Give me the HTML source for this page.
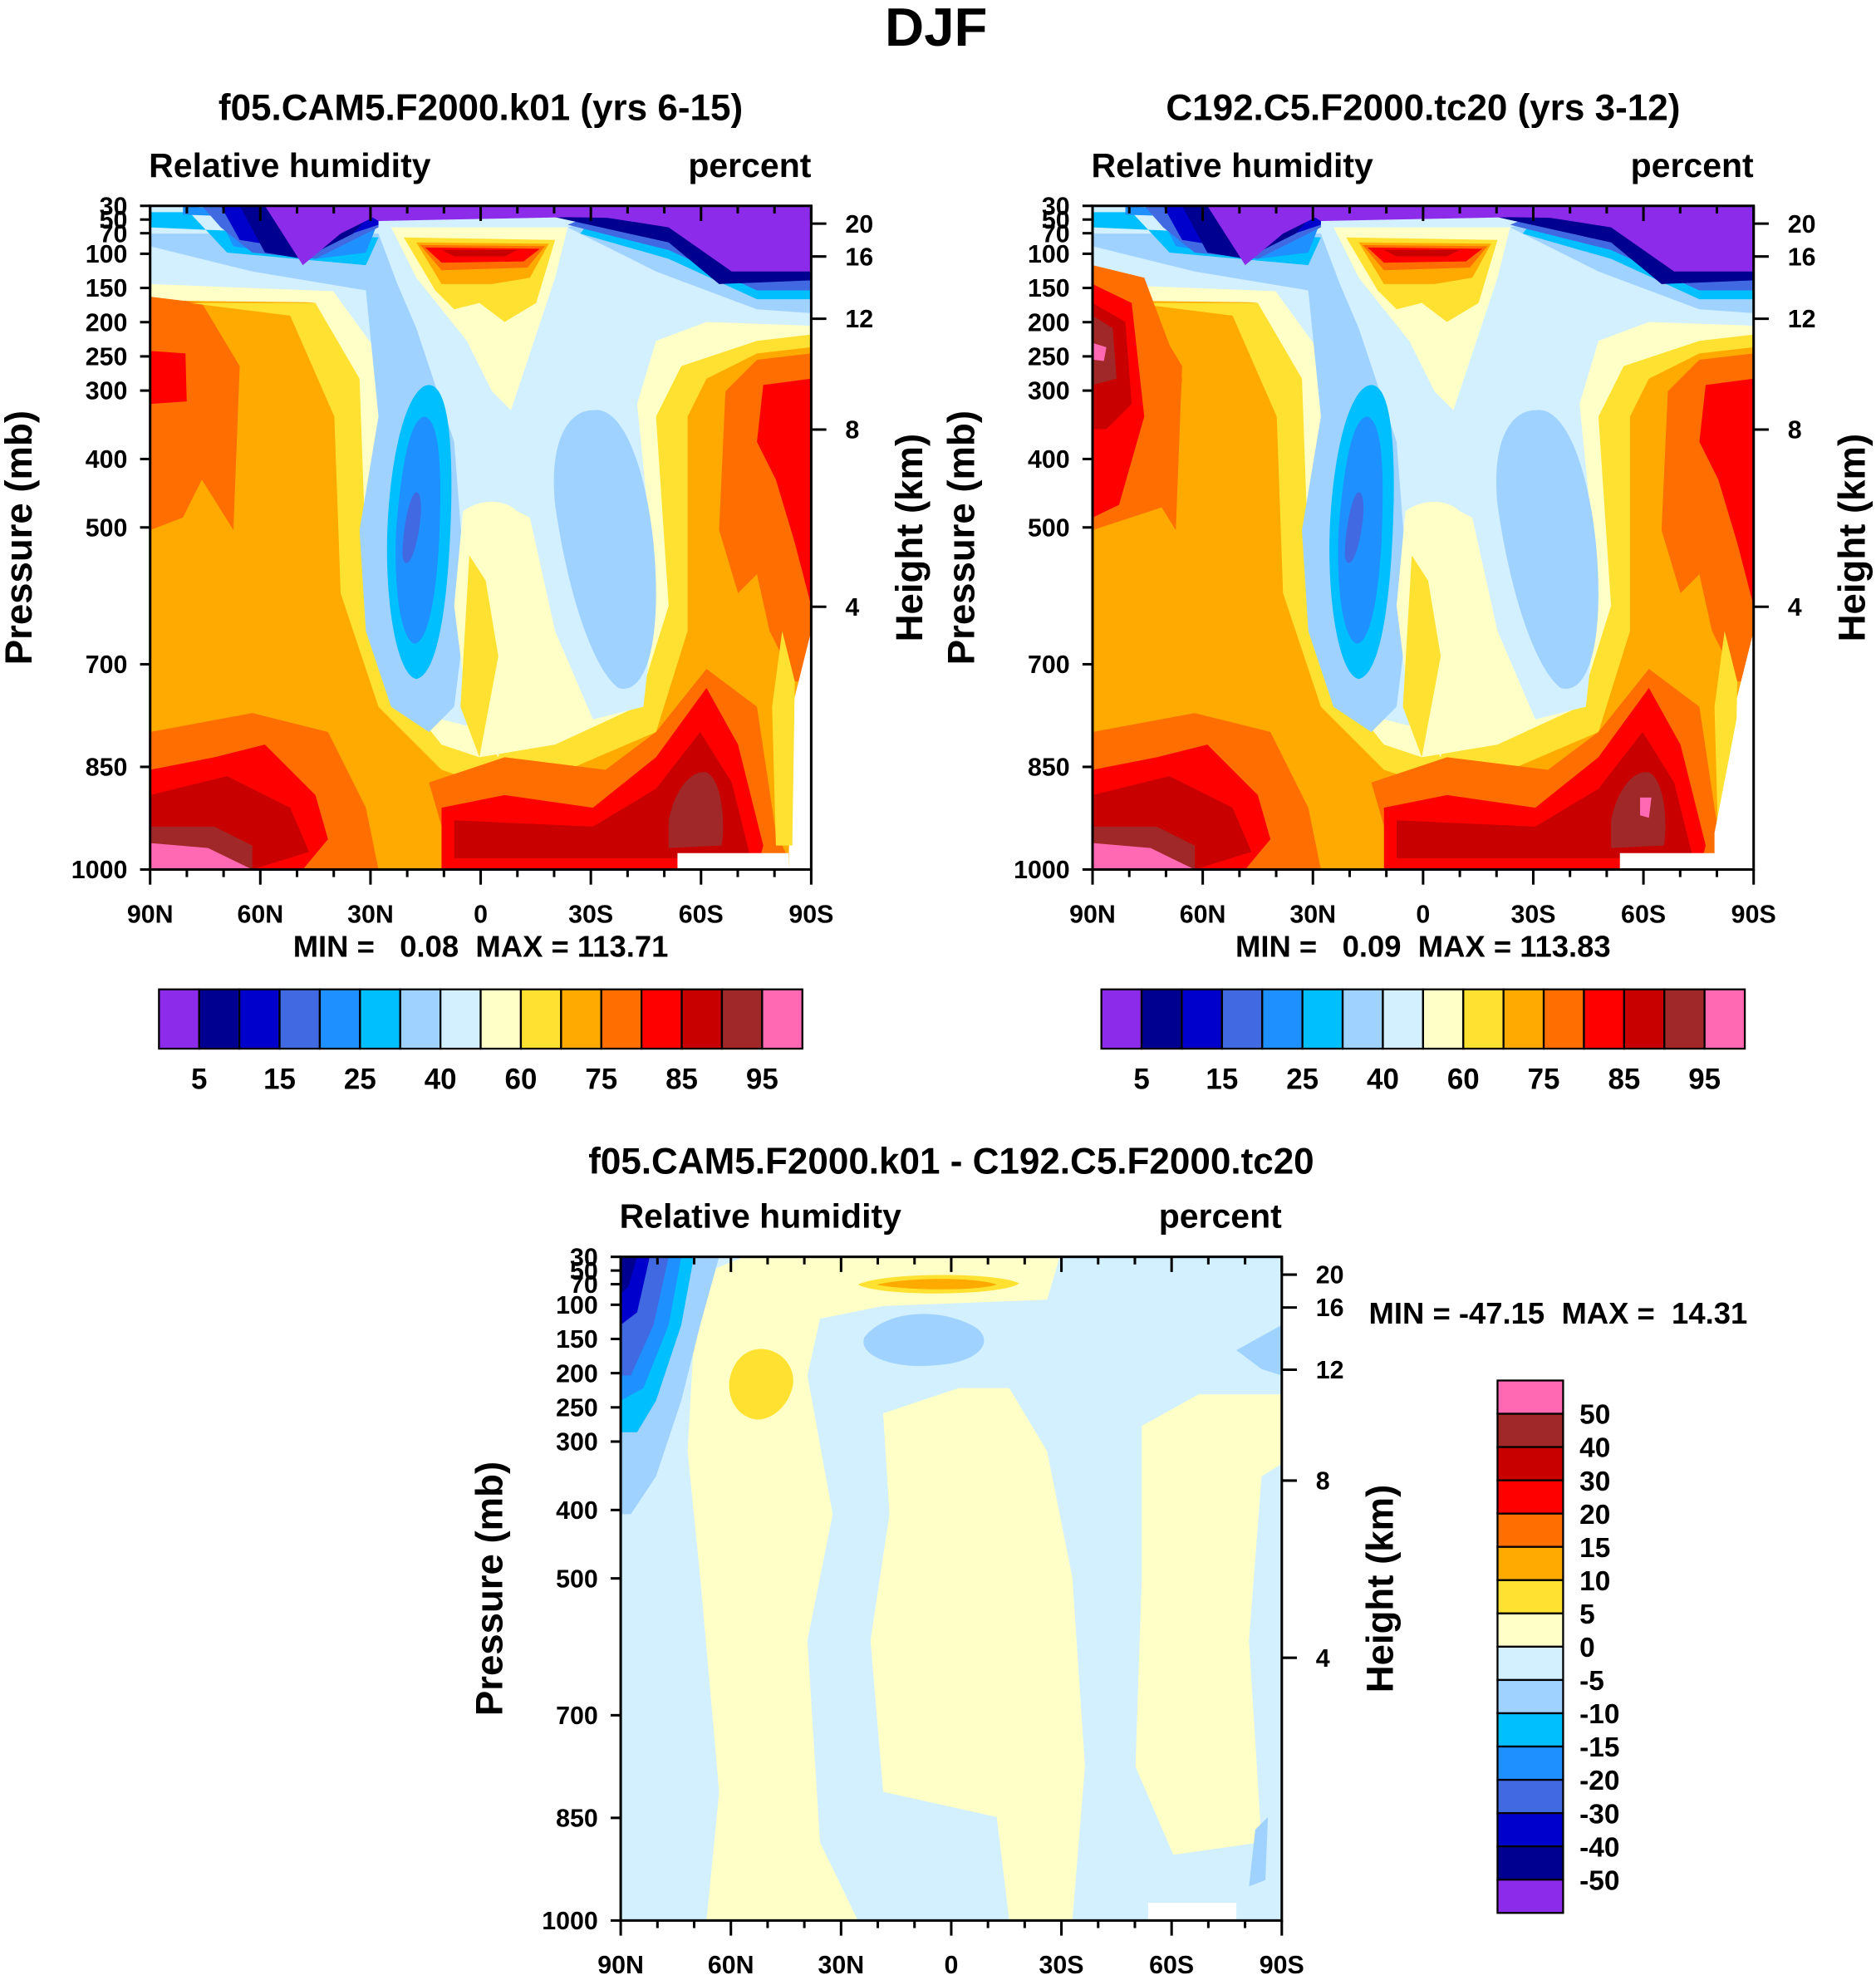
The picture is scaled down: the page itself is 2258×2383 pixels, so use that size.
<!DOCTYPE html>
<html><head><meta charset="utf-8"><style>
html,body{margin:0;padding:0;background:#fff}
svg{display:block;font-family:"Liberation Sans",sans-serif;font-weight:bold}
.pre{white-space:pre}
</style></head><body>
<svg id="s" width="2258" height="2383" viewBox="0 0 1487 1569" xmlns="http://www.w3.org/2000/svg">
<defs>
<clipPath id="c1"><rect x="119" y="163" width="524" height="526"/></clipPath>
<clipPath id="c3"><rect x="492" y="996" width="524" height="526"/></clipPath>
</defs>
<text x="742" y="36" text-anchor="middle" font-size="43">DJF</text>

<g id="p1">
<text x="381" y="95" text-anchor="middle" font-size="29">f05.CAM5.F2000.k01 (yrs 6-15)</text>
<g clip-path="url(#c1)">
<rect x="119" y="163" width="524" height="526" fill="#FFAA00"/>
<path fill="#FFFFC8" d="M119,163 H643 V270 L560,265 L400,250 L300,240 L119,238Z"/>
<path fill="#D2F0FF" d="M119,163 H643 V262 L560,258 L460,240 L300,232 L119,225Z"/>
<path fill="#FF6E00" d="M119,235 L160,240 L190,290 L185,420 L160,380 L145,410 L119,420Z"/>
<path fill="#FF0000" d="M119,278 L147,280 L148,318 L119,320Z"/>
<path fill="#FF6E00" d="M643,280 L600,285 L575,310 L570,420 L585,470 L600,455 L610,500 L630,540 L643,540Z"/>
<path fill="#FF0000" d="M643,300 L605,305 L600,350 L615,380 L630,430 L643,480Z"/>
<path fill="#FFE132" d="M150,240 L230,250 L265,330 L270,470 L300,560 L350,610 L380,620 L450,610 L520,580 L545,500 L545,330 L560,300 L600,280 L643,275 L643,262 L450,250 L350,240Z"/>
<path fill="#FFFFC8" d="M130,228 L250,240 L285,300 L290,440 L310,540 L350,590 L380,600 L440,590 L505,560 L530,480 L520,330 L540,290 L600,270 L643,265 L643,258 L400,245 L300,232Z"/>
<path fill="#D2F0FF" d="M119,210 L260,225 L300,280 L300,430 L320,520 L350,570 L370,575 L380,420 L400,400 L420,410 L440,500 L470,570 L510,560 L520,470 L505,320 L520,270 L560,255 L643,258 L643,235 L450,235 L300,215Z"/>
<path fill="#FFFFC8" d="M310,180 L450,180 L440,220 L420,280 L405,325 L390,310 L370,270 L330,220Z"/>
<path fill="#A0D2FF" d="M119,195 L200,215 L290,230 L300,330 L285,420 L290,500 L310,560 L340,580 L360,560 L370,480 L360,350 L330,260 L315,225 L300,185 L119,185Z"/>
<path fill="#A0D2FF" d="M470,325 C500,320 520,400 520,470 C520,530 505,550 490,545 C470,530 450,470 440,400 C435,350 450,325 470,325Z"/>
<path fill="#A0D2FF" d="M450,180 L520,215 L600,245 L643,248 L643,200 L470,175Z"/>
<path fill="#FFFFC8" d="M367,405 C380,395 400,395 410,405 L420,480 L395,600 L370,560 L360,480Z"/>
<path fill="#FFE132" d="M372,440 L385,460 L395,520 L380,600 L365,560Z"/>
<path fill="#00BFFF" d="M340,305 C355,305 360,350 357,420 C354,490 345,535 330,538 C315,535 305,480 307,420 C310,350 325,305 340,305Z"/>
<path fill="#1E90FF" d="M337,330 C350,335 350,380 348,430 C345,480 338,510 328,510 C318,505 312,470 314,420 C318,370 325,330 337,330Z"/>
<path fill="#4169E1" d="M330,390 C335,390 335,410 330,430 C326,448 320,450 319,440 C319,420 325,390 330,390Z"/>
<path fill="#00BFFF" d="M119,168 L150,168 L180,200 L290,210 L300,188 L119,180Z"/>
<path fill="#1E90FF" d="M145,163 L170,165 L185,195 L250,205 L290,200 L300,175 L145,170Z"/>
<path fill="#4169E1" d="M160,163 L175,180 L200,200 L250,205 L300,180 L300,163Z"/>
<path fill="#0000CD" d="M175,163 L190,190 L240,198 L300,178 L300,163Z"/>
<path fill="#000090" d="M190,163 L210,200 L240,205 L280,185 L300,163Z"/>
<path fill="#8C2BEA" d="M210,163 L240,210 L270,185 L300,170 L643,168 L643,163Z"/>
<path fill="#00BFFF" d="M460,185 L530,205 L600,237 L643,237 L643,208 L470,172Z"/>
<path fill="#4169E1" d="M450,178 L530,198 L600,230 L643,230 L643,210 L470,170Z"/>
<path fill="#000090" d="M440,172 L530,192 L570,225 L643,222 L643,163 L440,163Z"/>
<path fill="#8C2BEA" d="M440,166 L530,180 L580,215 L643,215 L643,163Z"/>
<path fill="#8C2BEA" d="M280,163 L643,163 L643,175 L450,172 L300,175Z"/>
<path fill="#FFE132" d="M320,188 L440,190 L425,240 L400,255 L380,240 L360,245 L345,230Z"/>
<path fill="#FFAA00" d="M330,192 L435,193 L420,220 L390,225 L350,225Z"/>
<path fill="#FF6E00" d="M333,194 L432,195 L418,212 L350,214Z"/>
<path fill="#FF0000" d="M337,196 L428,197 L415,207 L350,208Z"/>
<path fill="#C80000" d="M350,198 L410,198 L400,203 L360,203Z"/>
<path fill="#FF6E00" d="M119,580 L200,565 L260,580 L290,640 L300,689 L119,689Z"/>
<path fill="#FF0000" d="M119,610 L170,600 L210,590 L250,630 L260,665 L240,689 L119,689Z"/>
<path fill="#C80000" d="M119,630 L180,615 L230,640 L245,675 L200,689 L119,689Z"/>
<path fill="#A02828" d="M119,655 L170,655 L200,670 L200,689 L119,689Z"/>
<path fill="#FF69B4" d="M119,668 L165,672 L200,689 L119,689Z"/>
<path fill="#FF6E00" d="M340,620 L400,600 L480,610 L520,580 L560,530 L600,560 L615,660 L625,680 L360,689Z"/>
<path fill="#FF0000" d="M350,640 L400,630 L470,640 L520,600 L560,545 L585,590 L605,670 L600,689 L350,689Z"/>
<path fill="#C80000" d="M360,650 L470,655 L520,625 L555,580 L580,620 L595,680 L360,680Z"/>
<path fill="#A02828" d="M530,650 C535,625 548,610 560,612 C572,618 575,650 572,670 L530,672Z"/>
<rect x="537" y="676" width="88" height="13" fill="#fff"/>
<path fill="#fff" d="M628,560 L643,500 L643,689 L625,689Z"/>
<path fill="#FFE132" d="M620,500 L630,540 L628,670 L615,670 L612,560Z"/>
</g>
</g>
</svg>
<script>
var NS="http://www.w3.org/2000/svg";
var svg=document.getElementById('s');
var pressLevels=[30,50,70,100,150,200,250,300,400,500,700,850,1000];
var heightLabels=["20","16","12","8","4"];
var heightPress=[56,104,195,357,616];
var latLabels=["90N","60N","30N","0","30S","60S","90S"];
var rhLabels=["5","15","25","40","60","75","85","95"];
var diffLabels=["50","40","30","20","15","10","5","0","-5","-10","-15","-20","-30","-40","-50"];
var colors=["#8C2BEA","#000090","#0000CD","#4169E1","#1E90FF","#00BFFF","#A0D2FF","#D2F0FF","#FFFFC8","#FFE132","#FFAA00","#FF6E00","#FF0000","#C80000","#A02828","#FF69B4"];
var panel1Stats="MIN =   0.08  MAX = 113.71";
var panel2Stats="MIN =   0.09  MAX = 113.83";
var panel3Stats="MIN = -47.15  MAX =  14.31";
function mk(tag,at,parent,txt){var e=document.createElementNS(NS,tag);for(var k in at)e.setAttribute(k,at[k]);if(txt!==undefined)e.textContent=txt;(parent||svg).appendChild(e);return e;}
var p1=document.getElementById('p1');
var p2=p1.cloneNode(true);p2.id='p2';
p2.setAttribute('transform','translate(747,0)');

p2.querySelector('text').textContent='C192.C5.F2000.tc20 (yrs 3-12)';
svg.appendChild(p2);
var g2=mk('g',{transform:'translate(747,0)','clip-path':'url(#c1)'});


mk('path',{fill:'#FF6E00',d:'M119,210 L160,220 L190,300 L180,400 L119,420Z'},g2);
mk('path',{fill:'#FF0000',d:'M119,225 L150,240 L160,330 L140,400 L119,410Z'},g2);
mk('path',{fill:'#C80000',d:'M119,240 L145,255 L150,320 L130,340 L119,340Z'},g2);
mk('path',{fill:'#A02828',d:'M119,250 L135,260 L138,300 L119,305Z'},g2);
mk('path',{fill:'#FF69B4',d:'M120,272 L130,275 L128,286 L120,285Z'},g2);
mk('path',{fill:'#FF69B4',d:'M553,632 L562,632 L560,648 L553,646Z'},g2);
mk('path',{fill:'#fff',d:'M612,660 L643,500 L643,689 L612,689Z'},g2);

function axes(x0,y0,prefix){
  var w=524,h=526;
  function py(p){return y0+(p-30)*h/970;}
  function lx(i){return x0+i*w/6;}
  var g=mk('g',{});
  
  
  mk('rect',{x:x0,y:y0,width:w,height:h,fill:'none',stroke:'#000','stroke-width':2},g);
  var t=mk('text',{x:x0-1,y:y0-23,'font-size':27},g,'Relative humidity');
  
  t=mk('text',{x:x0+w,y:y0-23,'font-size':27,'text-anchor':'end'},g,'percent');
  
  pressLevels.forEach(function(p){var y=py(p);
    mk('line',{x1:x0-8,x2:x0,y1:y,y2:y,stroke:'#000','stroke-width':2},g);
    var tt=mk('text',{x:x0-18,y:y+7,'font-size':20,'text-anchor':'end'},g,String(p));
    });
  heightPress.forEach(function(p,i){var y=py(p);
    mk('line',{x1:x0+w,x2:x0+w+12,y1:y,y2:y,stroke:'#000','stroke-width':2},g);
    var tt=mk('text',{x:x0+w+27,y:y+7,'font-size':20},g,heightLabels[i]);
    });
  for(var i=0;i<=18;i++){var x=x0+i*w/18,maj=i%3==0;
    mk('line',{x1:x,x2:x,y1:y0+h,y2:y0+h+(maj?12:6),stroke:'#000','stroke-width':2},g);
    mk('line',{x1:x,x2:x,y1:y0,y2:y0+(maj?12:6),stroke:'#000','stroke-width':2},g);}
  latLabels.forEach(function(l,i){var tt=mk('text',{x:lx(i),y:y0+h+42,'font-size':20,'text-anchor':'middle'},g,l);
    });
  t=mk('text',{transform:'translate('+(x0-94)+','+(y0+h/2)+') rotate(-90)','font-size':30,'text-anchor':'middle'},g,'Pressure (mb)');
  
  t=mk('text',{transform:'translate('+(x0+w+88)+','+(y0+h/2)+') rotate(-90)','font-size':30,'text-anchor':'middle'},g,'Height (km)');
  
}
function hbar(x0,stats){
  var t=mk('text',{x:x0+262,y:758,'font-size':24,'text-anchor':'middle','class':'pre'},svg,stats);
  
  var bw=510/16;
  colors.forEach(function(c,i){var r=mk('rect',{x:x0+7+i*bw,y:784,width:bw,height:47,fill:c,stroke:'#000','stroke-width':1.5});
    });
  rhLabels.forEach(function(l,i){var tt=mk('text',{x:x0+7+(2*i+1)*bw,y:863,'font-size':23,'text-anchor':'middle'},svg,l);
    });
}
axes(119,163,'panel1');hbar(119,panel1Stats);
axes(866,163,'panel2');hbar(866,panel2Stats);

var g3=mk('g',{'clip-path':'url(#c3)'});


var shapes3=[
["#D2F0FF","M492,996 H1016 V1522 H492Z"],
["#FFFFC8","M555,1010 L590,996 L840,996 L830,1030 L700,1035 L650,1045 L640,1090 L660,1200 L640,1300 L650,1460 L680,1522 L560,1522 L570,1420 L555,1250 L545,1150 L550,1060Z"],
["#FFFFC8","M700,1120 L760,1100 L800,1100 L830,1150 L850,1250 L860,1400 L850,1522 L800,1522 L790,1440 L700,1420 L690,1300 L705,1200Z"],
["#FFFFC8","M905,1130 L950,1105 L1016,1105 L1016,1160 L1000,1170 L990,1300 L1000,1460 L930,1470 L900,1400 L905,1250Z"],
["#FFE132","M603,1069 C620,1069 632,1085 628,1100 C624,1115 612,1125 600,1125 C585,1123 577,1110 578,1095 C580,1080 590,1069 603,1069Z"],
["#FFFFC8","M670,1018 C690,1005 800,1003 830,1015 C820,1030 700,1032 670,1018Z"],
["#FFE132","M680,1018 C700,1008 790,1008 808,1017 C795,1027 700,1028 680,1018Z"],
["#FFAA00","M695,1018 C720,1012 775,1012 790,1018 C775,1023 720,1023 695,1018Z"],
["#A0D2FF","M685,1060 C700,1040 740,1035 770,1050 C790,1060 780,1080 740,1082 C710,1085 680,1075 685,1060Z"],
["#A0D2FF","M980,1070 L1016,1050 L1016,1090 L1000,1085Z"],
["#A0D2FF","M492,996 L570,996 L555,1050 L540,1110 L520,1170 L500,1200 L492,1200Z"],
["#00BFFF","M492,996 L550,996 L540,1050 L520,1110 L505,1135 L492,1135Z"],
["#1E90FF","M492,996 L540,996 L530,1050 L510,1100 L492,1110Z"],
["#4169E1","M492,996 L530,996 L518,1050 L500,1090 L492,1090Z"],
["#0000CD","M492,996 L515,996 L505,1040 L492,1050Z"],
["#000090","M492,996 L505,996 L498,1020 L492,1025Z"],
["#fff","M910,1508 H980 V1522 H910Z"],
["#A0D2FF","M995,1450 L1005,1440 L1003,1490 L990,1495Z"]
];
shapes3.forEach(function(s){mk('path',{fill:s[0],d:s[1]},g3);});
var t3=mk('text',{x:754,y:930,'font-size':29,'text-anchor':'middle'},svg,'f05.CAM5.F2000.k01 - C192.C5.F2000.tc20');

axes(492,996,'panel3');
var st=mk('text',{x:1085,y:1049,'font-size':24,'class':'pre'},svg,panel3Stats);

var bh=422/16;
colors.slice().reverse().forEach(function(c,i){var r=mk('rect',{x:1187,y:1094+i*bh,width:52,height:bh,fill:c,stroke:'#000','stroke-width':1.5});
  });
diffLabels.forEach(function(l,i){var tt=mk('text',{x:1252,y:1094+(i+1)*bh+8,'font-size':22},svg,l);
  });
</script>
</body></html>
